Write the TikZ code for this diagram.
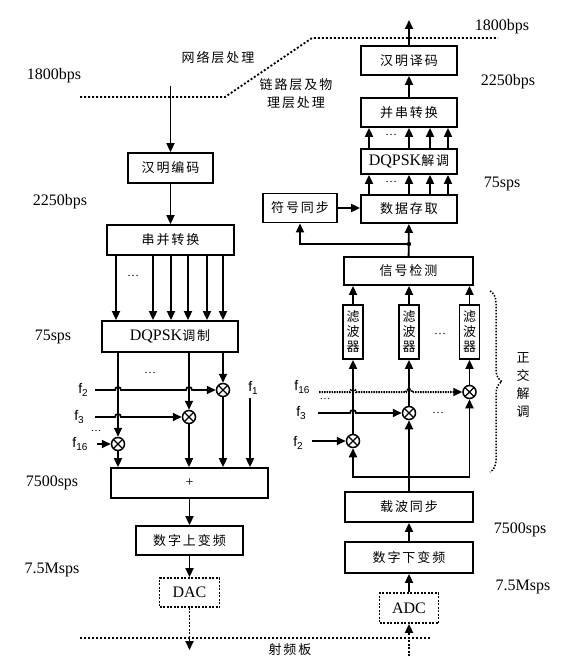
\documentclass[tikz,border=0pt]{standalone}
\usepackage{fontspec}
\setmainfont{Liberation Serif}
\newfontfamily\cjk[LetterSpace=15]{Noto Sans CJK SC}
\newfontfamily\cjkv{Noto Sans CJK SC}
\newfontfamily\sff{Liberation Sans}
\usetikzlibrary{arrows.meta,decorations.pathreplacing,calc}
\newcommand\zh{\fontsize{13}{15}\selectfont\cjk}
\newcommand\lat{\fontsize{16}{18}\selectfont}
\newcommand\fl[2]{{\sff\fontsize{14}{14}\selectfont #1\raisebox{-3pt}{\fontsize{10}{10}\selectfont #2}}}
\begin{document}
\begin{tikzpicture}[x=1pt,y=-1pt,
  box/.style={draw,line width=1.8pt,inner sep=0pt,align=center},
  dbox/.style={box,dash pattern=on 2pt off 1.5pt},
  arr/.style={-{Triangle[length=9pt,width=8pt]},line width=1.8pt},
  ln/.style={line width=1.8pt},
  dotline/.style={line width=1.8pt,dash pattern=on 2pt off 2pt},
  mix/.style={circle,draw,line width=1.5pt,minimum size=13pt,inner sep=0pt,
    path picture={\draw[line width=1.3pt] (path picture bounding box.north west)--(path picture bounding box.south east)
      (path picture bounding box.north east)--(path picture bounding box.south west);}},
  lbl/.style={inner sep=0pt,font=\lat},
  zl/.style={inner sep=0pt,font=\zh},
  flt/.style={box,minimum width=20pt,minimum height=54pt,font=\fontsize{13}{15}\selectfont\cjkv}
]
\useasboundingbox (0,0) rectangle (566,669);

% layer separators
\coordinate (d1) at (80,97);
\coordinate (d2) at (225,97);
\coordinate (d3) at (312,38);
\coordinate (d4) at (498,38);
\draw[dotline] (d1) -- (d2) -- (d3) -- (d4);
\coordinate (b1) at (80,638);
\coordinate (b2) at (430,638);
\draw[dotline] (b1) -- (b2);

\node[zl] (net) at (218,58) {网络层处理};
\node[zl,align=center] (phy) at (296,94) {链路层及物\\[3pt]理层处理};
\node[zl] (rf) at (290,650) {射频板};

% rate labels
\node[lbl] (r1L) at (54,76) {1800bps};
\node[lbl] (r2L) at (60,202) {2250bps};
\node[lbl] (r3L) at (53,337) {75sps};
\node[lbl] (r4L) at (52,483) {7500sps};
\node[lbl] (r5L) at (52,570) {7.5Msps};
\node[lbl] (r1R) at (502,27) {1800bps};
\node[lbl] (r2R) at (508,82) {2250bps};
\node[lbl] (r3R) at (502,184) {75sps};
\node[lbl] (r4R) at (520,530) {7500sps};
\node[lbl] (r5R) at (523,587) {7.5Msps};

% ---------- transmitter ----------
\node[box,minimum width=85pt,minimum height=30pt,font=\zh] (hmE) at (170.5,168) {汉明编码};
\node[box,minimum width=127pt,minimum height=30pt,font=\zh] (spL) at (170.5,240) {串并转换};
\node[box,minimum width=136pt,minimum height=31pt] (dqL) at (170,336.5) {{\lat DQPSK}{\zh 调制}};
\node[box,minimum width=157pt,minimum height=30pt,font=\fontsize{14}{14}\selectfont] (sum) at (189.5,483) {+};
\node[box,minimum width=107pt,minimum height=29pt,font=\zh] (upc) at (189.5,540.5) {数字上变频};
\node[dbox,minimum width=60pt,minimum height=29pt,font=\lat] (dac) at (189.5,592.5) {DAC};

\coordinate (inL) at (170.5,86);
\draw[arr] (inL) -- (hmE.north);
\draw[arr] (hmE) -- (spL);
\foreach \x in {116,153,171,188,207,223}{
  \coordinate (t\x) at (\x,0);
  \draw[arr] (t\x |- spL.south) -- (t\x |- dqL.north);
}
\node[font=\fontsize{12}{12}\selectfont] (dotsA) at (133,276) {\ldots};

\node[mix] (mxA) at (223,390) {};
\node[mix] (mxB) at (189,417) {};
\node[mix] (mxC) at (118,444) {};
\coordinate (c118) at (118,0);
\coordinate (c189) at (189,0);
\coordinate (c223) at (223,0);
\coordinate (c250) at (250,0);
\draw[arr] (c118 |- dqL.south) -- (mxC);
\draw[arr] (c189 |- dqL.south) -- (mxB);
\draw[arr] (c223 |- dqL.south) -- (mxA);
\draw[arr] (mxC) -- (c118 |- sum.north);
\draw[arr] (mxB) -- (c189 |- sum.north);
\draw[arr] (mxA) -- (c223 |- sum.north);
\node[font=\fontsize{12}{12}\selectfont] (dotsB) at (150,373) {\ldots};

\node[inner sep=0pt] (lf2) at (83,390) {\fl{f}{2}};
\node[inner sep=0pt] (lf3) at (79,417) {\fl{f}{3}};
\node[inner sep=0pt] (lf16) at (80,444) {\fl{f}{16}};
\node[inner sep=0pt] (lf1) at (253,388) {\fl{f}{1}};
\node[font=\fontsize{11}{11}\selectfont] (dotsC) at (96,431) {\ldots};

\coordinate (sf2) at (95,390);
\coordinate (sf3) at (95,417);
\coordinate (sf16) at (97,444);
\coordinate (sf1) at (250,398);
\draw[arr] (sf2) -- (115,390) arc[start angle=180,end angle=360,radius=3] -- (186,390) arc[start angle=180,end angle=360,radius=3] -- (mxA);
\draw[arr] (sf3) -- (115,417) arc[start angle=180,end angle=360,radius=3] -- (mxB);
\draw[arr] (sf16) -- (mxC);
\draw[arr] (sf1) -- (c250 |- sum.north);

\draw[arr] (sum) -- (upc);
\draw[arr] (upc) -- (dac);
\coordinate (outL) at (189.5,650);
\draw[arr,dash pattern=on 2pt off 1.5pt] (dac.south) -- (outL);

% ---------- receiver ----------
\node[box,minimum width=96pt,minimum height=29pt,font=\zh] (hmD) at (409,60.5) {汉明译码};
\node[box,minimum width=96pt,minimum height=29pt,font=\zh] (psR) at (409,112.5) {并串转换};
\node[box,minimum width=96pt,minimum height=25pt] (dqR) at (409,161.5) {{\lat DQPSK}{\zh 解调}};
\node[box,minimum width=96pt,minimum height=28pt,font=\zh] (mem) at (409,209) {数据存取};
\node[box,minimum width=74pt,minimum height=29pt,font=\zh] (sym) at (300,208) {符号同步};
\node[box,minimum width=129pt,minimum height=28pt,font=\zh] (det) at (408.5,271) {信号检测};
\node[flt] (fl1) at (353,332) {滤\\波\\器};
\node[flt] (fl2) at (409,332) {滤\\波\\器};
\node[flt] (fl3) at (469.5,332) {滤\\波\\器};
\node[box,minimum width=128pt,minimum height=30pt,font=\zh] (car) at (409,507) {载波同步};
\node[box,minimum width=128pt,minimum height=31pt,font=\zh] (dnc) at (409,557.5) {数字下变频};
\node[dbox,minimum width=59pt,minimum height=30pt,font=\lat] (adc) at (409,608) {ADC};

\coordinate (outR) at (409,20);
\draw[arr] (hmD.north) -- (outR);
\draw[arr] (psR) -- (hmD);
\foreach \x in {369,409,430,448}{
  \coordinate (u\x) at (\x,0);
  \draw[arr] (u\x |- dqR.north) -- (u\x |- psR.south);
  \draw[arr] (u\x |- mem.north) -- (u\x |- dqR.south);
}
\node[font=\fontsize{12}{12}\selectfont] (dotsD) at (391,135) {\ldots};
\node[font=\fontsize{12}{12}\selectfont] (dotsE) at (391,182) {\ldots};
\draw[arr] (sym.east) -- (sym.east -| mem.west);
\coordinate (jn) at (409,244);
\draw[arr] (det) -- (mem);
\draw[arr] (jn) -| (sym.south);
\fill (jn) circle (2.2pt);

\draw[arr] (fl1) -- (fl1 |- det.south);
\draw[arr] (fl2) -- (fl2 |- det.south);
\draw[arr] (fl3) -- (fl3 |- det.south);
\node[font=\fontsize{12}{12}\selectfont] (dotsF) at (440,334) {\ldots};

\node[mix] (mR1) at (353,441) {};
\node[mix] (mR2) at (409,413) {};
\node[mix] (mR3) at (469.5,392) {};
\draw[arr] (mR1) -- (fl1);
\draw[arr] (mR2) -- (fl2);
\draw[arr] (mR3) -- (fl3);

\node[inner sep=0pt] (rf16) at (302,387) {\fl{f}{16}};
\node[inner sep=0pt] (rf3) at (301,413) {\fl{f}{3}};
\node[inner sep=0pt] (rf2) at (298,443) {\fl{f}{2}};
\node[font=\fontsize{11}{11}\selectfont] (dotsG) at (325,399) {\ldots};
\node[font=\fontsize{12}{12}\selectfont] (dotsH) at (438,413) {\ldots};

\coordinate (tf16) at (319,392);
\coordinate (tf3) at (318,413);
\coordinate (tf2) at (312,441);
\draw[arr,dash pattern=on 1.5pt off 1pt,line width=2pt] (tf16) -- (350,392) arc[start angle=180,end angle=360,radius=3] -- (406,392) arc[start angle=180,end angle=360,radius=3] -- (mR3);
\draw[arr] (tf3) -- (350,413) arc[start angle=180,end angle=360,radius=3] -- (mR2);
\draw[arr] (tf2) -- (mR1);

\coordinate (bl) at (353,477);
\coordinate (bm) at (409,477);
\coordinate (br) at (469.5,477);
\draw[ln,line cap=rect] (bl) -- (br);
\draw[ln] (car.north) -- (bm);
\draw[arr] (bl) -- (mR1);
\draw[arr] (bm) -- (mR2);
\draw[arr] (br) -- (mR3);

\draw[arr] (dnc) -- (car);
\draw[arr] (adc) -- (dnc);
\coordinate (inR) at (409,656);
\draw[arr,dash pattern=on 2pt off 1.5pt] (inR) -- (adc.south);

% brace
\coordinate (brT) at (490,291);
\coordinate (brB) at (490,472);
\draw[line width=1.5pt,dash pattern=on 1.5pt off 1.5pt,decorate,decoration={brace,amplitude=12pt}] (brT) -- (brB);
\node[zl,align=center,font=\fontsize{13}{18}\selectfont\cjkv] (quad) at (523,385) {正\\交\\解\\调};
\end{tikzpicture}
\end{document}
